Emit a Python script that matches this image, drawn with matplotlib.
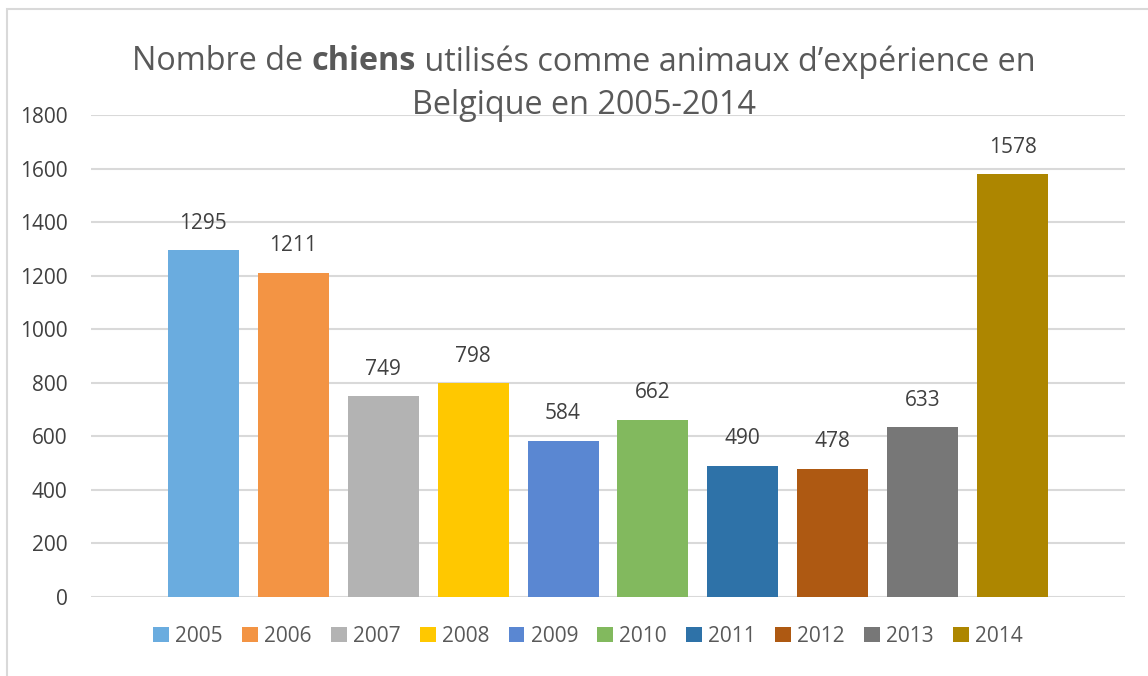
import matplotlib.pyplot as plt
from matplotlib.patches import Rectangle

plt.rcParams['font.family'] = ['Open Sans', 'DejaVu Sans']

years = ["2005", "2006", "2007", "2008", "2009", "2010", "2011", "2012", "2013", "2014"]
dogs = [1295, 1211, 749, 798, 584, 662, 490, 478, 633, 1578]
colors = ["#6AACDF", "#F39444", "#B3B3B3", "#FFC800", "#5A87D2",
          "#82B95E", "#2E72A8", "#AE5912", "#777777", "#AD8600"]
yticks = [0, 200, 400, 600, 800, 1000, 1200, 1400, 1600, 1800]

txt = "#595959"

fig = plt.figure(figsize=(11.48, 6.76), dpi=100)
ax = fig.add_axes([91 / 1148, 1 - 597 / 676, (1125 - 91) / 1148, (597 - 115) / 676])

for i, (y, v, c) in enumerate(zip(years, dogs, colors)):
    ax.bar(i, v, width=0.79, color=c, label=y, zorder=3)
    ax.annotate(str(v), (i, v), xytext=(0, 12), textcoords="offset points",
                ha="center", va="bottom", fontsize=15, color="#404040")

ax.set_xlim(-1.25, 10.25)
ax.set_ylim(0, 1800)
ax.set_yticks(yticks)
ax.set_xticks([])
ax.tick_params(axis="y", length=0, pad=17, labelsize=15, labelcolor="#404040")
ax.grid(axis="y", color="#D9D9D9", linewidth=1.5, zorder=0)
for s in ax.spines.values():
    s.set_visible(False)

# title with bold word
fig.canvas.draw()
r = fig.canvas.get_renderer()
parts = [("Nombre de ", "normal"), ("chiens", "bold"),
         (" utilisés comme animaux d\u2019expérience en", "normal")]
objs = []
for s, w in parts:
    t = fig.text(0, 0, s, fontsize=23.3, fontweight=w, color=txt, va="center")
    objs.append(t)
widths = [t.get_window_extent(r).width for t in objs]
x0 = 584 - sum(widths) / 2
for t, w in zip(objs, widths):
    t.set_position((x0 / 1148, 1 - 62 / 676))
    x0 += w
fig.text(584 / 1148, 1 - 105 / 676, "Belgique en 2005-2014", fontsize=23.3,
         color=txt, ha="center", va="center")

leg = fig.legend(loc="center", bbox_to_anchor=(588 / 1148, 1 - 636 / 676), ncol=10,
                 frameon=False, fontsize=15, handlelength=0.75, handleheight=0.75,
                 handletextpad=0.3, columnspacing=0.93)
for t in leg.get_texts():
    t.set_color(txt)

fig.add_artist(Rectangle((7 / 1148, -0.1), 1.2, 1.1 - 9 / 676, transform=fig.transFigure,
                         fill=False, edgecolor="#D9D9D9", linewidth=1.5))

fig.savefig("out.png", dpi=100)
